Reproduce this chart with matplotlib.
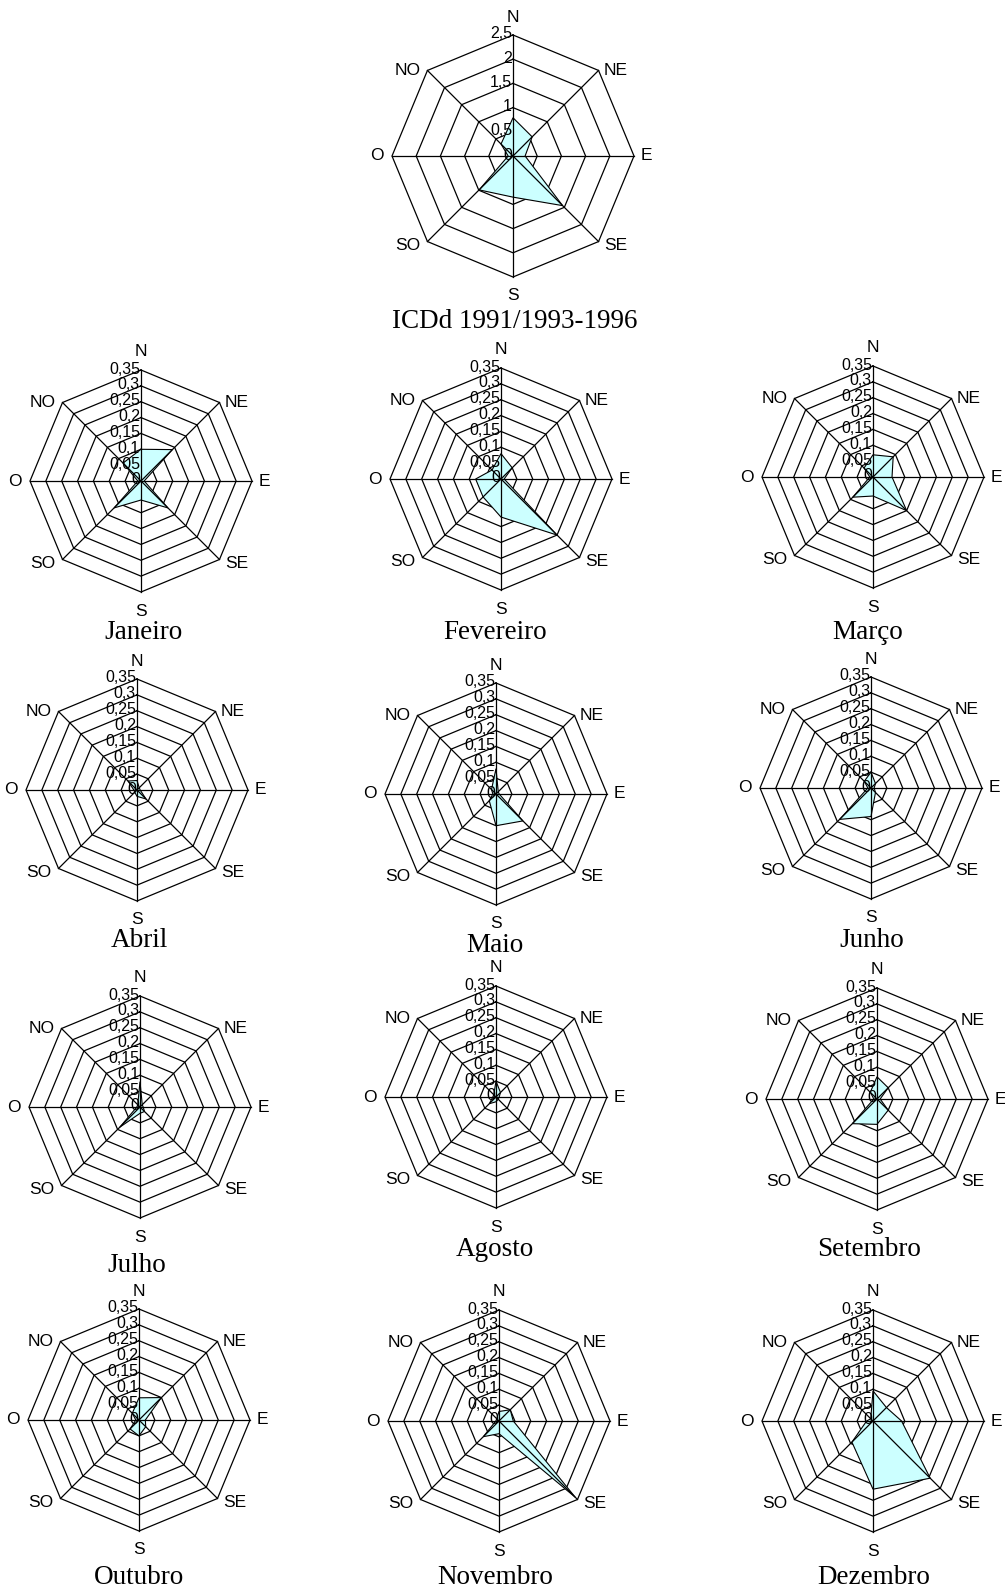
import numpy as np
import matplotlib
matplotlib.use("Agg")
import matplotlib.pyplot as plt

# dados ---------------------------------------------
direcoes = ["N", "NE", "E", "SE", "S", "SO", "O", "NO"]

titulo_total = "ICDd 1991/1993-1996"
icdd_total = [0.79, 0.56, 0.25, 1.45, 0.85, 0.99, 0.10, 0.35]
ticks_total = [0, 0.5, 1, 1.5, 2, 2.5]

ticks_mes = [0, 0.05, 0.1, 0.15, 0.2, 0.25, 0.3, 0.35]
meses = ["Janeiro", "Fevereiro", "Março", "Abril", "Maio", "Junho",
         "Julho", "Agosto", "Setembro", "Outubro", "Novembro", "Dezembro"]

janeiro = [0.10, 0.14, 0.01, 0.12, 0.06, 0.12, 0.01, 0.08]
fevereiro = [0.08, 0.05, 0.01, 0.25, 0.12, 0.08, 0.08, 0.04]
marco = [0.07, 0.09, 0.06, 0.15, 0.06, 0.09, 0.01, 0.04]
abril = [0.03, 0.01, 0.01, 0.04, 0.02, 0.01, 0.01, 0.04]
maio = [0.08, 0.01, 0.01, 0.12, 0.10, 0.03, 0.01, 0.02]
junho = [0.05, 0.02, 0.01, 0.02, 0.09, 0.14, 0.01, 0.03]
julho = [0.08, 0.01, 0.01, 0.02, 0.02, 0.09, 0.01, 0.01]
agosto = [0.05, 0.02, 0.01, 0.01, 0.015, 0.03, 0.01, 0.01]
setembro = [0.07, 0.05, 0.01, 0.05, 0.08, 0.11, 0.01, 0.03]
outubro = [0.07, 0.10, 0.02, 0.03, 0.05, 0.04, 0.01, 0.03]
novembro = [0.03, 0.05, 0.045, 0.34, 0.04, 0.07, 0.01, 0.01]
dezembro = [0.095, 0.06, 0.09, 0.255, 0.215, 0.094, 0.02, 0.01]
# ---------------------------------------------------

mensal = [janeiro, fevereiro, marco, abril, maio, junho,
          julho, agosto, setembro, outubro, novembro, dezembro]

# layout (pixels): centro x, centro y, raio, titulo x, titulo y
W, H = 1005, 1593
pos_total = (513, 156, 121, 515, 321)
pos_meses = [
    (141, 481, 111, 143, 633), (501, 479, 111, 495, 633), (873, 477, 111, 868, 633),
    (137, 790, 111, 139, 940), (496, 794, 111, 495, 946), (871, 788, 111, 872, 940),
    (140, 1107, 111, 137, 1265), (496, 1097, 111, 495, 1250), (877, 1099, 111, 869, 1250),
    (139, 1420, 111, 139, 1578), (499, 1421, 111, 495, 1578), (873, 1421, 111, 874, 1578),
]
offsets = {"N": (0, 18), "NE": (17, 0), "E": (12, 0), "SE": (17, -4),
           "S": (0, -19), "SO": (-20, -4), "O": (-15, 0), "NO": (-20, 0)}

sans = "Liberation Sans"
serif = "Liberation Serif"


def fmt(v):
    return f"{v:g}".replace(".", ",")


def radar(fig, pos, valores, ticks, titulo):
    cx, cy, R, tx, ty = pos
    ax = fig.add_axes([(cx - R) / W, 1 - (cy + R) / H, 2 * R / W, 2 * R / H],
                      projection="polar")
    rmax = ticks[-1]
    ang = np.deg2rad(np.arange(len(direcoes)) * 45.0)
    ang_f = np.append(ang, ang[0])
    ax.set_theta_zero_location("N")
    ax.set_theta_direction(-1)
    ax.set_ylim(0, rmax)
    ax.set_axis_off()

    for t in ticks[1:]:
        ax.plot(ang_f, [t] * len(ang_f), color="black", lw=0.9, zorder=2, clip_on=False)
    v = np.append(valores, valores[0])
    ax.fill(ang_f, v, facecolor="#ccffff", edgecolor="black", lw=0.8, zorder=3)
    for a in ang:
        ax.plot([a, a], [0, rmax], color="black", lw=0.9, zorder=4, clip_on=False)

    for t in ticks:
        ax.annotate(fmt(t), xy=(0, t), xytext=(-1, 1), textcoords="offset pixels",
                    ha="right", va="center", fontsize=11.5, family=sans,
                    annotation_clip=False, zorder=5)
    for a, d in zip(ang, direcoes):
        ax.annotate(d, xy=(a, rmax), xytext=offsets[d], textcoords="offset pixels",
                    ha="center", va="center", fontsize=12.5, family=sans,
                    annotation_clip=False)
    fig.text(tx / W, 1 - ty / H, titulo, ha="center", va="center",
             fontsize=19.5, family=serif)


fig = plt.figure(figsize=(W / 100, H / 100), dpi=100)
radar(fig, pos_total, icdd_total, ticks_total, titulo_total)
for p, vals, nome in zip(pos_meses, mensal, meses):
    radar(fig, p, vals, ticks_mes, nome)

fig.savefig("out.png", dpi=100)
